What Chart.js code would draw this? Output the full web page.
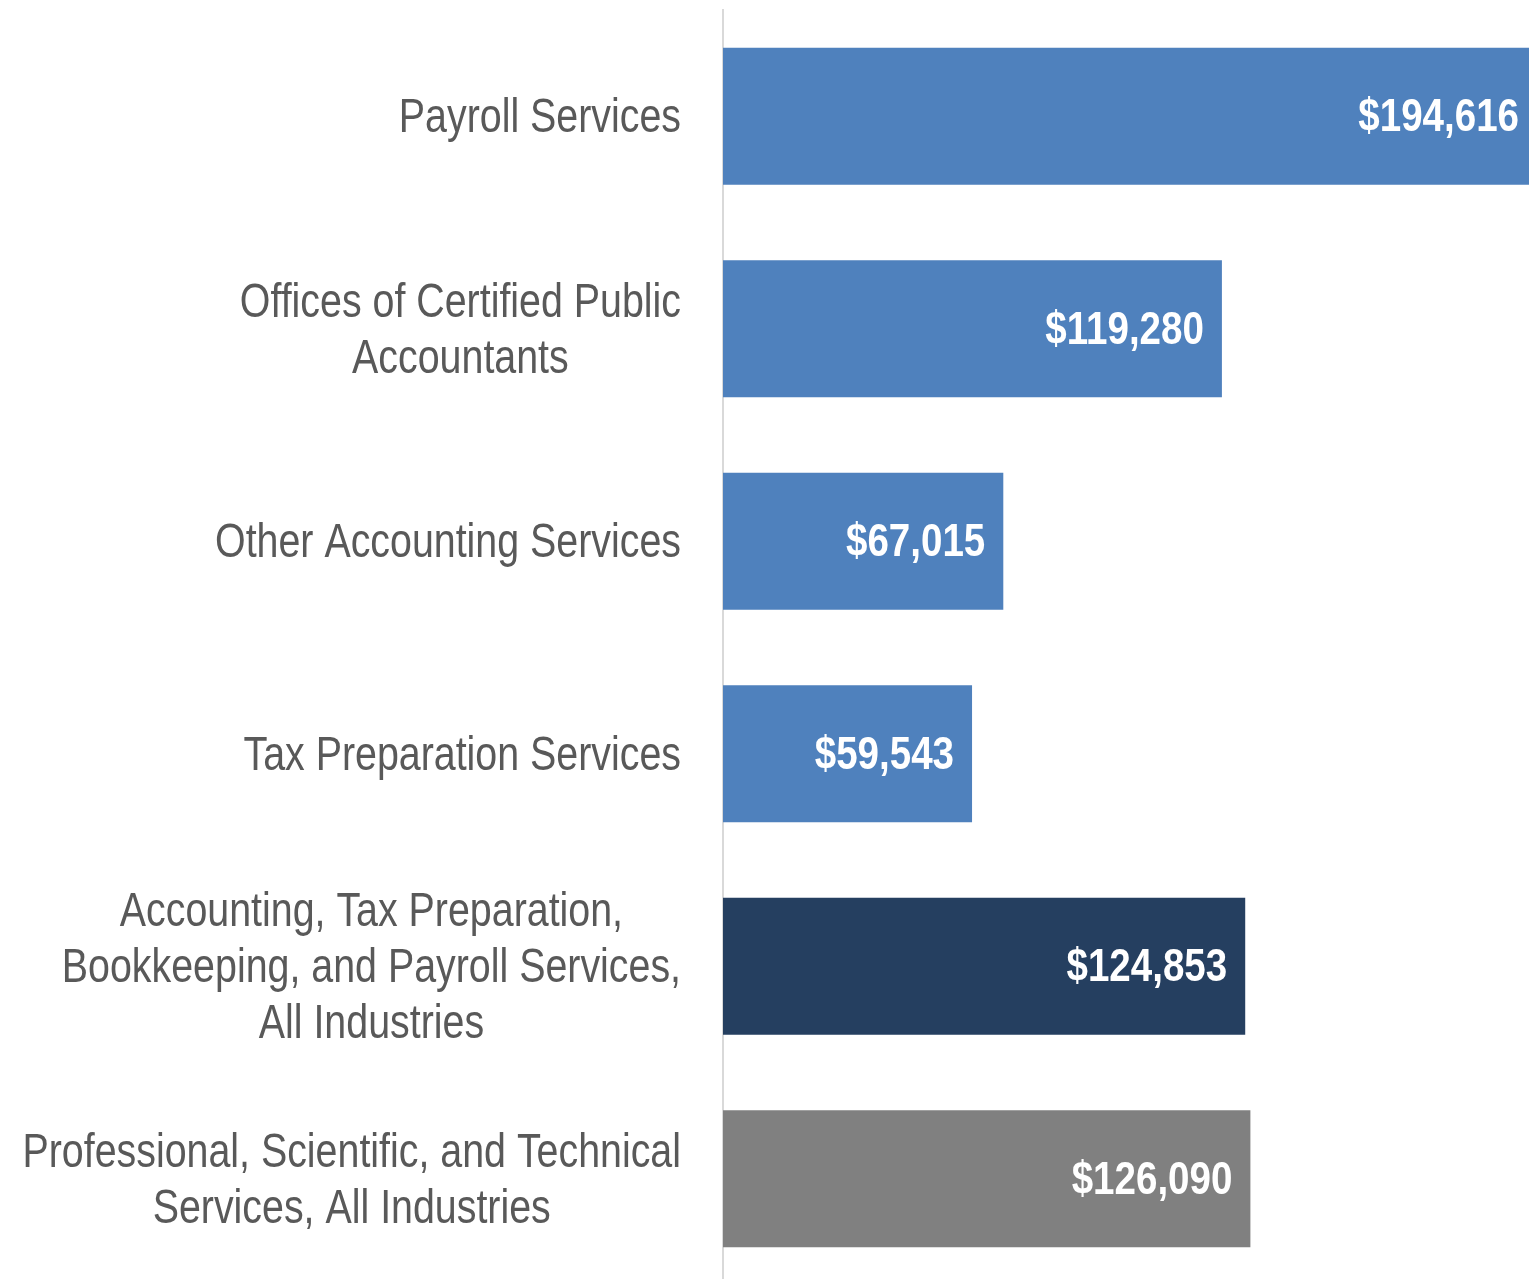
<!DOCTYPE html>
<html lang="en">
<head>
    <meta charset="UTF-8">
    <title>Average wages by industry</title>
    <script src="https://cdn.jsdelivr.net/npm/chart.js"></script>
    <style>
        html, body { margin: 0; padding: 0; background: #ffffff; overflow: hidden; }
        #wrap { width: 1529px; height: 1285px; position: relative; }
    </style>
</head>
<body>
    <div id="wrap"><canvas id="wageChart"></canvas></div>
    <script>
        // categories (each entry = lines of the label)
        var categories = [
            ['Payroll Services'],
            ['Offices of Certified Public', 'Accountants'],
            ['Other Accounting Services'],
            ['Tax Preparation Services'],
            ['Accounting, Tax Preparation,', 'Bookkeeping, and Payroll Services,', 'All Industries'],
            ['Professional, Scientific, and Technical', 'Services, All Industries']
        ];
        var wages = [194616, 119280, 67015, 59543, 124853, 126090];
        var barColors = ['#4F81BD', '#4F81BD', '#4F81BD', '#4F81BD', '#253F60', '#808080'];

        // no Arial Narrow here, so squeeze Liberation Sans horizontally
        var NARROW = 0.82;
        var labelFont = '48px "Liberation Sans", Arial, sans-serif';
        var valueFont = 'bold 47px "Liberation Sans", Arial, sans-serif';

        function money(v) {
            return '$' + v.toLocaleString('en-US');
        }

        function narrowText(ctx, text, x, y) {
            ctx.save();
            ctx.translate(x, y);
            ctx.scale(NARROW, 1);
            ctx.fillText(text, 0, 0);
            ctx.restore();
        }

        // category labels: block right-aligned to the axis, lines centered inside the block
        var categoryLabels = {
            id: 'categoryLabels',
            afterDraw: function(chart) {
                var ctx = chart.ctx;
                var yScale = chart.scales.y;
                ctx.save();
                ctx.font = labelFont;
                ctx.fillStyle = '#595959';
                ctx.textAlign = 'center';
                ctx.textBaseline = 'middle';
                categories.forEach(function(lines, i) {
                    var maxW = 0;
                    lines.forEach(function(l) { maxW = Math.max(maxW, ctx.measureText(l).width * NARROW); });
                    var right = chart.chartArea.left - 42;
                    var cx = right - maxW / 2;
                    var cy = yScale.getPixelForValue(i) + 3;
                    var lh = 56;
                    lines.forEach(function(l, k) {
                        narrowText(ctx, l, cx, cy - (lines.length - 1) * lh / 2 + k * lh);
                    });
                });
                ctx.restore();
            }
        };

        // value labels inside the bar end
        var valueLabels = {
            id: 'valueLabels',
            afterDatasetsDraw: function(chart) {
                var ctx = chart.ctx;
                var meta = chart.getDatasetMeta(0);
                ctx.save();
                ctx.font = valueFont;
                ctx.fillStyle = '#ffffff';
                ctx.textAlign = 'right';
                ctx.textBaseline = 'middle';
                meta.data.forEach(function(bar, i) {
                    narrowText(ctx, money(wages[i]), bar.x - 18, bar.y + 2);
                });
                ctx.restore();
            }
        };

        new Chart(document.getElementById('wageChart'), {
            type: 'bar',
            data: {
                labels: categories,
                datasets: [{
                    data: wages,
                    backgroundColor: barColors,
                    barPercentage: 0.8,
                    categoryPercentage: 0.806
                }]
            },
            options: {
                indexAxis: 'y',
                responsive: true,
                maintainAspectRatio: false,
                animation: false,
                layout: { padding: { top: 10, bottom: 0, left: 0, right: 0 } },
                plugins: {
                    legend: { display: false },
                    tooltip: { enabled: false }
                },
                scales: {
                    x: {
                        display: false,
                        min: 0,
                        max: 192700
                    },
                    y: {
                        ticks: { display: false },
                        grid: { display: false },
                        border: { display: true, color: '#D9D9D9', width: 2 },
                        afterFit: function(scale) { scale.width = 723; }
                    }
                }
            },
            plugins: [categoryLabels, valueLabels]
        });
    </script>
</body>
</html>
